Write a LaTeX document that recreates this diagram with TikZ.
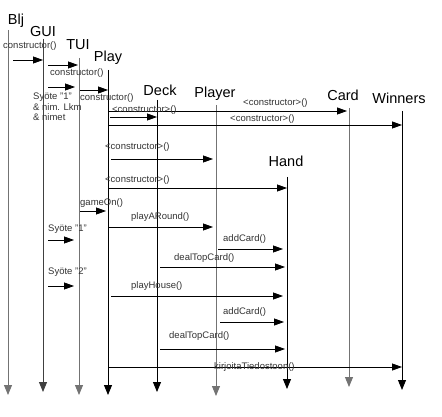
\documentclass[tikz,border=0pt]{standalone}
\usepackage{fontspec}
\setmainfont{Liberation Sans}
\usetikzlibrary{arrows.meta}
\begin{document}
\begin{tikzpicture}[x=1pt,y=-1pt,
  title/.style={font=\fontsize{14.5}{16}\selectfont, inner sep=0},
  lbl/.style={font=\fontsize{9.5}{11}\selectfont, text=black!80, inner sep=0, anchor=west},
  life/.style={line width=0.9pt, -{Triangle[length=10pt,width=8pt]}},
  msg/.style={line width=0.8pt, -{Triangle[length=10pt,width=7pt]}}]
\useasboundingbox (0,0) rectangle (442,417);

% ---- objects and their lifelines ----
\node[title] (blj) at (16,21) {Blj};
\coordinate (bljT) at (8,30);   \coordinate (bljB) at (8,395);
\draw[life, black!55] (bljT) -- (bljB);

\node[title] (gui) at (43,32) {GUI};
\coordinate (guiT) at (43,39);  \coordinate (guiB) at (43,392);
\draw[life, black!75] (guiT) -- (guiB);

\node[title] (tui) at (78,45) {TUI};
\coordinate (tuiT) at (79,58);  \coordinate (tuiB) at (79,395);
\draw[life, black!55] (tuiT) -- (tuiB);

\node[title] (play) at (108,58) {Play};
\coordinate (playT) at (108,70); \coordinate (playB) at (108,395);
\draw[life] (playT) -- (playB);

\node[title] (deck) at (160,90) {Deck};
\coordinate (deckT) at (157,100); \coordinate (deckB) at (157,392);
\draw[life] (deckT) -- (deckB);

\node[title] (player) at (215,94) {Player};
\coordinate (playerT) at (216,105); \coordinate (playerB) at (216,396);
\draw[life, black!55] (playerT) -- (playerB);

\node[title] (hand) at (286,161) {Hand};
\coordinate (handT) at (287,177); \coordinate (handB) at (287,389);
\draw[life] (handT) -- (handB);

\node[title] (card) at (343,95) {Card};
\coordinate (cardT) at (349,108); \coordinate (cardB) at (349,387);
\draw[life, black!55] (cardT) -- (cardB);

\node[title] (winners) at (399,98) {Winners};
\coordinate (winT) at (402,111); \coordinate (winB) at (402,390);
\draw[life] (winT) -- (winB);

% ---- messages ----
\node[lbl] (l1) at (3,46) {constructor()};
\coordinate (m1a) at (13,60);  \coordinate (m1b) at (43,60);
\draw[msg] (m1a) -- (m1b);

\coordinate (m2a) at (48,65);  \coordinate (m2b) at (78,65);
\draw[msg] (m2a) -- (m2b);
\node[lbl] (l2) at (50,73) {constructor()};

\coordinate (m3a) at (48,87);  \coordinate (m3b) at (75,87);
\draw[msg] (m3a) -- (m3b);
\coordinate (m4a) at (80,90);  \coordinate (m4b) at (108,90);
\draw[msg] (m4a) -- (m4b);
\node[lbl] (l4) at (80,98) {constructor()};
\node[lbl, anchor=north west, align=left, font=\fontsize{9.5}{10.5}\selectfont]
  (syote1) at (33,93) {Syöte "1"\\\& nim. Lkm\\\& nimet};

\coordinate (m6a) at (108,111); \coordinate (m6b) at (347,111);
\draw[msg] (m6a) -- (m6b);
\node[lbl] (l6) at (243,103) {<constructor>()};

\node[lbl] (l5) at (112,110) {<constructor>()};
\coordinate (m5a) at (110,117); \coordinate (m5b) at (157,117);
\draw[msg] (m5a) -- (m5b);

\node[lbl] (l7) at (230,119) {<constructor>()};
\coordinate (m7a) at (108,125); \coordinate (m7b) at (402,125);
\draw[msg] (m7a) -- (m7b);

\node[lbl] (l8) at (105,147) {<constructor>()};
\coordinate (m8a) at (111,159); \coordinate (m8b) at (213,159);
\draw[msg] (m8a) -- (m8b);

\node[lbl] (l9) at (105,180) {<constructor>()};
\coordinate (m9a) at (108,188); \coordinate (m9b) at (287,188);
\draw[msg] (m9a) -- (m9b);

\node[lbl] (l10) at (80,203) {gameOn()};
\coordinate (m10a) at (80,211); \coordinate (m10b) at (106,211);
\draw[msg] (m10a) -- (m10b);

\node[lbl] (l11) at (131,217) {playARound()};
\coordinate (m11a) at (108,227); \coordinate (m11b) at (213,227);
\draw[msg] (m11a) -- (m11b);

\node[lbl] (l12) at (48,229) {Syöte "1"};
\coordinate (m12a) at (48,240); \coordinate (m12b) at (74,240);
\draw[msg] (m12a) -- (m12b);

\node[lbl] (l13) at (223,239) {addCard()};
\coordinate (m13a) at (218,249); \coordinate (m13b) at (283,249);
\draw[msg] (m13a) -- (m13b);

\node[lbl] (l14) at (174,258) {dealTopCard()};
\coordinate (m14a) at (160,267); \coordinate (m14b) at (285,267);
\draw[msg] (m14a) -- (m14b);

\node[lbl] (l15) at (48,272) {Syöte "2"};
\coordinate (m15a) at (48,286); \coordinate (m15b) at (74,286);
\draw[msg] (m15a) -- (m15b);

\node[lbl] (l16) at (131,286) {playHouse()};
\coordinate (m16a) at (111,296); \coordinate (m16b) at (283,296);
\draw[msg] (m16a) -- (m16b);

\node[lbl] (l17) at (223,312) {addCard()};
\coordinate (m17a) at (220,322); \coordinate (m17b) at (284,322);
\draw[msg] (m17a) -- (m17b);

\node[lbl] (l18) at (169,336) {dealTopCard()};
\coordinate (m18a) at (160,349); \coordinate (m18b) at (285,349);
\draw[msg] (m18a) -- (m18b);

\coordinate (m19a) at (108,367); \coordinate (m19b) at (402,367);
\draw[msg] (m19a) -- (m19b);
\node[lbl] (l19) at (214,367) {kirjoitaTiedostoon()};
\end{tikzpicture}
\end{document}
